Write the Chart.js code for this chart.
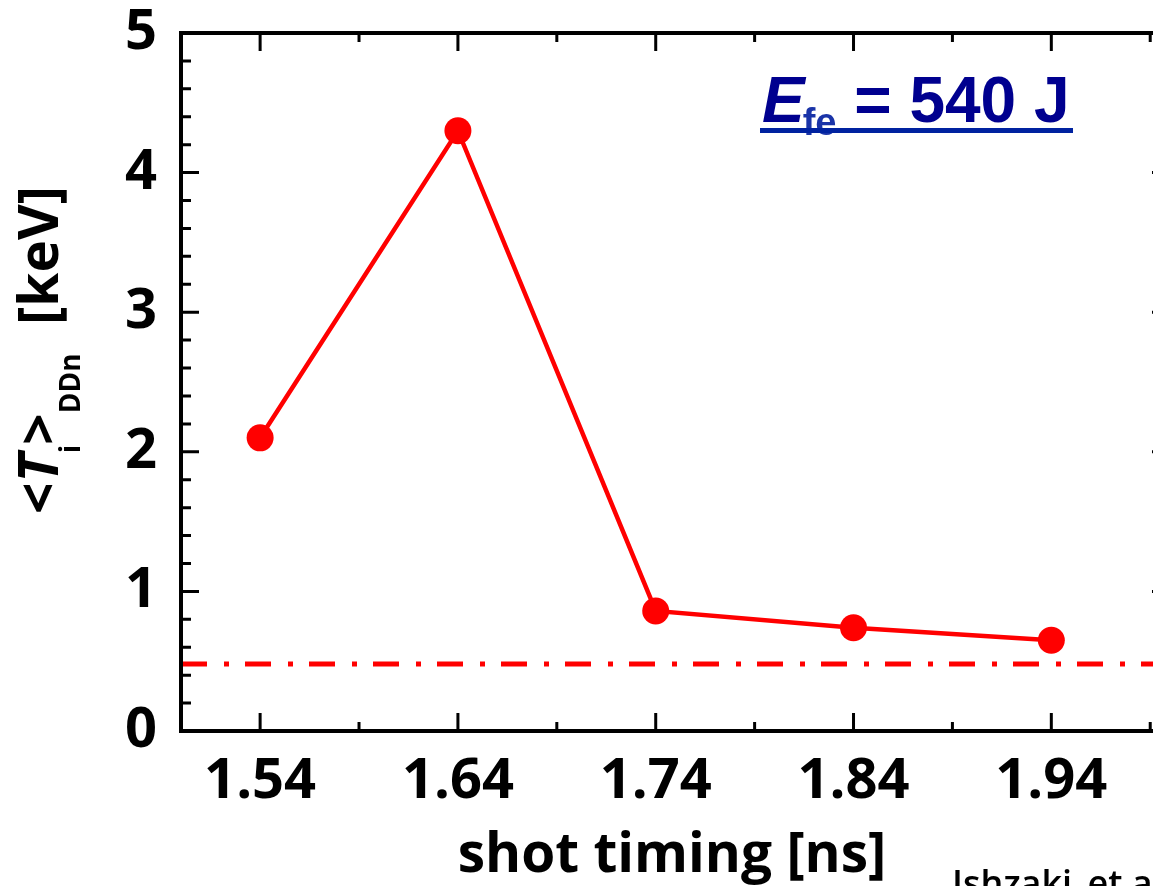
<!DOCTYPE html>
<html>
<head>
<meta charset="utf-8">
<script src="https://cdn.jsdelivr.net/npm/chart.js@4"></script>
<style>
  html, body { margin: 0; padding: 0; background: #fff; overflow: hidden; }
  #wrap { position: relative; width: 1190px; height: 886px; }
</style>
</head>
<body>
<div id="wrap"><canvas id="myChart"></canvas></div>
<script>
// values
const shotTiming = [1.54, 1.64, 1.74, 1.84, 1.94];
const tiDDn = [2.10, 4.30, 0.86, 0.74, 0.65];
const refLevelX = [1.50, 2.00];
const refLevelY = [0.48, 0.48];
const xTickLabels = ["1.54", "1.64", "1.74", "1.84", "1.94"];
const yTickLabels = ["0", "1", "2", "3", "4", "5"];
const xTitle = "shot timing [ns]";
const noteText = "Ishzaki_et al.";

const tickFont = { family: "Open Sans", weight: "bold", size: 56, lineHeight: 1 };

// frame, inward ticks on all four sides, axis titles and the energy note
const framePlugin = {
  id: "frame",
  afterDraw(chart) {
    const { ctx, chartArea: a, scales } = chart;
    const x = scales.x;
    const y = scales.y;
    ctx.save();
    ctx.strokeStyle = "#000";
    ctx.lineWidth = 3;
    ctx.beginPath();
    shotTiming.forEach(function (v) {
      const px = x.getPixelForValue(v);
      ctx.moveTo(px, a.bottom); ctx.lineTo(px, a.bottom - 18);
      ctx.moveTo(px, a.top); ctx.lineTo(px, a.top + 18);
      const pm = x.getPixelForValue(v + 0.05);
      if (pm <= a.right) {
        ctx.moveTo(pm, a.bottom); ctx.lineTo(pm, a.bottom - 9);
        ctx.moveTo(pm, a.top); ctx.lineTo(pm, a.top + 9);
      }
    });
    for (let i = 0; i <= 25; i++) {
      const py = y.getPixelForValue(i * 0.2);
      const len = i % 5 === 0 ? 18 : 10;
      ctx.moveTo(a.left, py); ctx.lineTo(a.left + len, py);
      ctx.moveTo(a.right, py); ctx.lineTo(a.right - len, py);
    }
    ctx.stroke();
    ctx.lineWidth = 4;
    ctx.strokeRect(a.left, a.top, a.right - a.left, a.bottom - a.top);

    // x title
    ctx.fillStyle = "#000";
    ctx.textBaseline = "alphabetic";
    ctx.textAlign = "center";
    ctx.font = "bold 55px 'Open Sans'";
    ctx.fillText(xTitle, 672, 872);

    // y title, rotated
    const parts = [
      { t: "<", f: "bold 55px 'Open Sans'", dy: 0 },
      { t: "T", f: "italic bold 55px 'Open Sans'", dy: 0 },
      { t: "i", f: "bold 28px 'Open Sans'", dy: 22 },
      { t: ">", f: "bold 55px 'Open Sans'", dy: 0 },
      { t: "DDn", f: "bold 28px 'Open Sans'", dy: 22 },
      { t: "  [keV]", f: "bold 55px 'Open Sans'", dy: 0 }
    ];
    ctx.textAlign = "left";
    let total = 0;
    parts.forEach(function (p) { ctx.font = p.f; p.w = ctx.measureText(p.t).width; total += p.w; });
    ctx.save();
    ctx.translate(58, 350);
    ctx.rotate(-Math.PI / 2);
    let cx = -total / 2;
    parts.forEach(function (p) { ctx.font = p.f; ctx.fillText(p.t, cx, p.dy); cx += p.w; });
    ctx.restore();

    // E_fe = 540 J
    let ex = 762;
    ctx.font = "italic bold 64px 'Liberation Sans'";
    ctx.fillStyle = "#00008f";
    ctx.fillText("E", ex, 122);
    ex += ctx.measureText("E").width;
    ctx.font = "bold 38px 'Liberation Sans'";
    ctx.fillStyle = "#1a34a8";
    ctx.fillText("fe", ex - 2, 135);
    ex += ctx.measureText("fe").width - 2;
    ctx.font = "bold 64px 'Liberation Sans'";
    ctx.fillStyle = "#00008f";
    ctx.fillText(" = 540 J", ex, 122);
    ctx.fillStyle = "#0022a0";
    ctx.fillRect(760, 128, 313, 5);

    // cropped source note
    ctx.fillStyle = "#000";
    ctx.font = "600 36px 'Open Sans'";
    ctx.fillText(noteText, 952, 896);
    ctx.restore();
  }
};

const ctx = document.getElementById("myChart").getContext("2d");
const myChart = new Chart(ctx, {
  type: "line",
  data: {
    datasets: [
      {
        label: "Ti DDn",
        data: shotTiming.map(function (v, i) { return { x: v, y: tiDDn[i] }; }),
        borderColor: "#ff0000",
        backgroundColor: "#ff0000",
        borderWidth: 4.5,
        pointRadius: 13.5,
        pointHoverRadius: 13.5,
        pointBorderWidth: 0,
        tension: 0
      },
      {
        label: "reference level",
        data: refLevelX.map(function (v, i) { return { x: v, y: refLevelY[i] }; }),
        borderColor: "#ff0000",
        borderWidth: 5,
        borderDash: [26, 17, 5, 16],
        borderCapStyle: "butt",
        pointRadius: 0,
        pointHoverRadius: 0
      }
    ]
  },
  options: {
    responsive: true,
    maintainAspectRatio: false,
    animation: false,
    layout: { padding: { top: 33, right: 20, left: 0, bottom: 0 } },
    plugins: { legend: { display: false }, tooltip: { enabled: false } },
    scales: {
      x: {
        type: "linear",
        min: 1.5,
        max: 2.0,
        afterBuildTicks: function (s) { s.ticks = shotTiming.map(function (v) { return { value: v }; }); },
        afterFit: function (s) { s.height = 155; s.paddingLeft = 0; s.paddingRight = 0; },
        grid: { display: false, drawTicks: false },
        border: { display: false },
        ticks: {
          color: "#000",
          font: tickFont,
          padding: 23,
          maxRotation: 0,
          autoSkip: false,
          callback: function (v, i) { return xTickLabels[i]; }
        }
      },
      y: {
        min: 0,
        max: 5,
        afterFit: function (s) { s.width = 181; s.paddingTop = 0; s.paddingBottom = 0; },
        grid: { display: false, drawTicks: false },
        border: { display: false },
        ticks: {
          stepSize: 1,
          color: "#000",
          font: tickFont,
          padding: 24,
          callback: function (v, i) { return yTickLabels[i]; }
        }
      }
    }
  },
  plugins: [framePlugin]
});
</script>
</body>
</html>
